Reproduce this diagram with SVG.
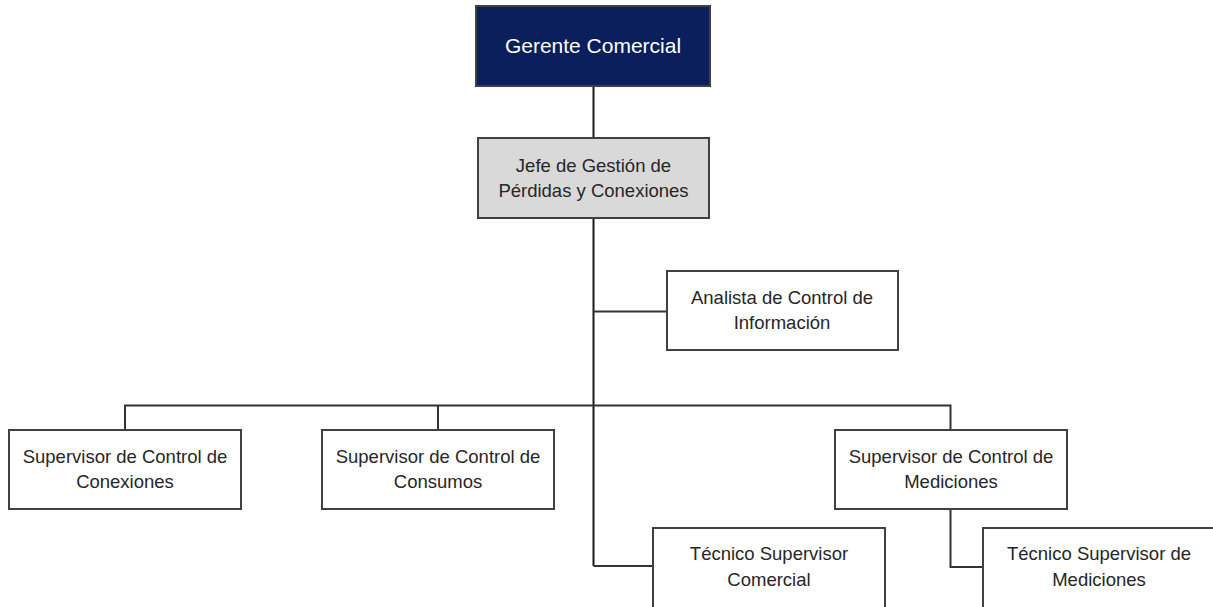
<svg xmlns="http://www.w3.org/2000/svg" width="1213" height="607" viewBox="0 0 1213 607">
<style>
  .box { fill: #ffffff; stroke: #404040; stroke-width: 2; }
  .top { fill: #0a1f5c; stroke: #404040; stroke-width: 2; }
  .grey { fill: #d9d9d9; stroke: #404040; stroke-width: 2; }
  .t { font-family: "Liberation Sans", Arial, sans-serif; font-size: 18.5px; fill: #262626; text-anchor: middle; }
  .tw { font-family: "Liberation Sans", Arial, sans-serif; font-size: 21px; fill: #ffffff; text-anchor: middle; }
  .c { fill: none; stroke: #333333; stroke-width: 2; }
  .cm { fill: none; stroke: #1a1a1a; stroke-width: 2; }
</style>
<rect width="1213" height="607" fill="#ffffff"/>
<g id="connectors">
  <line class="cm" x1="593.5" y1="86" x2="593.5" y2="138"/>
  <line class="cm" x1="593.5" y1="218" x2="593.5" y2="566"/>
  <line class="c" x1="593.5" y1="311.5" x2="667" y2="311.5"/>
  <polyline class="c" points="125,430 125,405.5 950.5,405.5 950.5,430"/>
  <line class="c" x1="438" y1="405.5" x2="438" y2="430"/>
  <line class="c" x1="593.5" y1="566" x2="653" y2="566"/>
  <polyline class="c" points="950.5,509 950.5,567 983,567"/>
</g>
<g id="gerente">
  <rect class="top" x="476" y="6" width="234" height="80"/>
  <text class="tw" x="593" y="53">Gerente Comercial</text>
</g>
<g id="jefe">
  <rect class="grey" x="478" y="138" width="231" height="80"/>
  <text class="t" x="593.5" y="172">Jefe de Gestión de</text>
  <text class="t" x="593.5" y="197">Pérdidas y Conexiones</text>
</g>
<g id="analista">
  <rect class="box" x="667" y="271" width="231" height="79"/>
  <text class="t" x="782" y="304">Analista de Control de</text>
  <text class="t" x="782" y="329">Información</text>
</g>
<g id="sup-conexiones">
  <rect class="box" x="9" y="430" width="232" height="79"/>
  <text class="t" x="125" y="463">Supervisor de Control de</text>
  <text class="t" x="125" y="488">Conexiones</text>
</g>
<g id="sup-consumos">
  <rect class="box" x="322" y="430" width="232" height="79"/>
  <text class="t" x="438" y="463">Supervisor de Control de</text>
  <text class="t" x="438" y="488">Consumos</text>
</g>
<g id="sup-mediciones">
  <rect class="box" x="835" y="430" width="232" height="79"/>
  <text class="t" x="951" y="463">Supervisor de Control de</text>
  <text class="t" x="951" y="488">Mediciones</text>
</g>
<g id="tec-comercial">
  <rect class="box" x="653" y="528" width="232" height="82"/>
  <text class="t" x="769" y="560">Técnico Supervisor</text>
  <text class="t" x="769" y="586">Comercial</text>
</g>
<g id="tec-mediciones">
  <rect class="box" x="983" y="528" width="232" height="82"/>
  <text class="t" x="1099" y="560">Técnico Supervisor de</text>
  <text class="t" x="1099" y="586">Mediciones</text>
</g>
</svg>
